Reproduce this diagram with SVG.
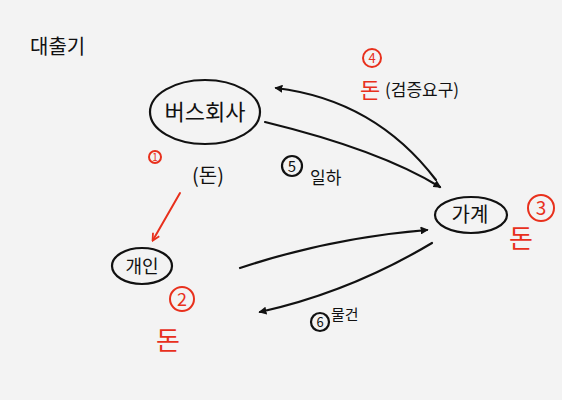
<svg xmlns="http://www.w3.org/2000/svg" width="562" height="400" viewBox="0 0 562 400">
<defs>
<style>
.k{fill:none;stroke:#111;stroke-width:2.2;stroke-linecap:round}
.r{fill:none;stroke:#e8301c;stroke-width:2;stroke-linecap:round}
.t{font-family:"Noto Sans CJK KR","Noto Sans",sans-serif;fill:#111}
.tr{font-family:"Noto Sans CJK KR","Noto Sans",sans-serif;fill:#e8301c}
</style>
<marker id="ak" viewBox="0 0 10 10" refX="8" refY="5" markerWidth="8" markerHeight="8" orient="auto-start-reverse" markerUnits="userSpaceOnUse"><path d="M0,0 L10,5 L0,10 Z" fill="#111"/></marker>
<marker id="ar" viewBox="0 0 10 10" refX="8" refY="5" markerWidth="9" markerHeight="9" orient="auto" markerUnits="userSpaceOnUse"><path d="M1,1 L9,5 L1,9" fill="none" stroke="#e8301c" stroke-width="2"/></marker>
</defs>
<rect width="562" height="400" fill="#f3f3f3"/>
<text class="t" x="30" y="54" font-size="20">대출기</text>
<g id="bus">
<ellipse class="k" cx="205" cy="112" rx="55" ry="32"/>
<text class="t" x="205" y="120" font-size="22" text-anchor="middle">버스회사</text>
</g>
<g id="person">
<ellipse class="k" cx="142" cy="266" rx="30" ry="18"/>
<text class="t" x="142" y="273" font-size="18" text-anchor="middle">개인</text>
</g>
<g id="household">
<ellipse class="k" cx="471" cy="215" rx="36" ry="18"/>
<text class="t" x="470" y="222" font-size="20" text-anchor="middle">가계</text>
</g>
<g id="connectors">
<path class="k" d="M265,122 Q380,150 440,187" marker-end="url(#ak)"/>
<path class="k" d="M436,180 Q375,100 276,88" marker-end="url(#ak)"/>
<path class="k" d="M240,268 Q330,238 427,230" marker-end="url(#ak)"/>
<path class="k" d="M432,243 Q350,292 260,312" marker-end="url(#ak)"/>
<path class="r" d="M180,193 L153,240" marker-end="url(#ar)"/>
</g>
<g id="labels">
<circle class="r" cx="155" cy="157" r="6"/>
<text class="tr" x="155" y="161" font-size="10" text-anchor="middle">1</text>
<text class="t" x="208" y="183" font-size="20" text-anchor="middle">(돈)</text>
<circle class="r" cx="182" cy="299" r="12"/>
<text class="tr" x="182" y="306" font-size="18" text-anchor="middle">2</text>
<text class="tr" x="168" y="350" font-size="26" text-anchor="middle">돈</text>
<circle class="r" cx="541" cy="208" r="13"/>
<text class="tr" x="541" y="215" font-size="19" text-anchor="middle">3</text>
<text class="tr" x="521" y="248" font-size="26" text-anchor="middle">돈</text>
<circle class="r" cx="372" cy="58" r="9"/>
<text class="tr" x="372" y="63" font-size="13" text-anchor="middle">4</text>
<text class="tr" x="370" y="98" font-size="22" text-anchor="middle">돈</text>
<text class="t" x="385" y="96" font-size="17">(검증요구)</text>
<circle class="k" cx="292" cy="166" r="10"/>
<text class="t" x="292" y="172" font-size="15" text-anchor="middle">5</text>
<text class="t" x="310" y="184" font-size="17">일하</text>
<circle class="k" cx="320" cy="322" r="9"/>
<text class="t" x="320" y="327" font-size="13" text-anchor="middle">6</text>
<text class="t" x="331" y="320" font-size="15">물건</text>
</g>
</svg>
